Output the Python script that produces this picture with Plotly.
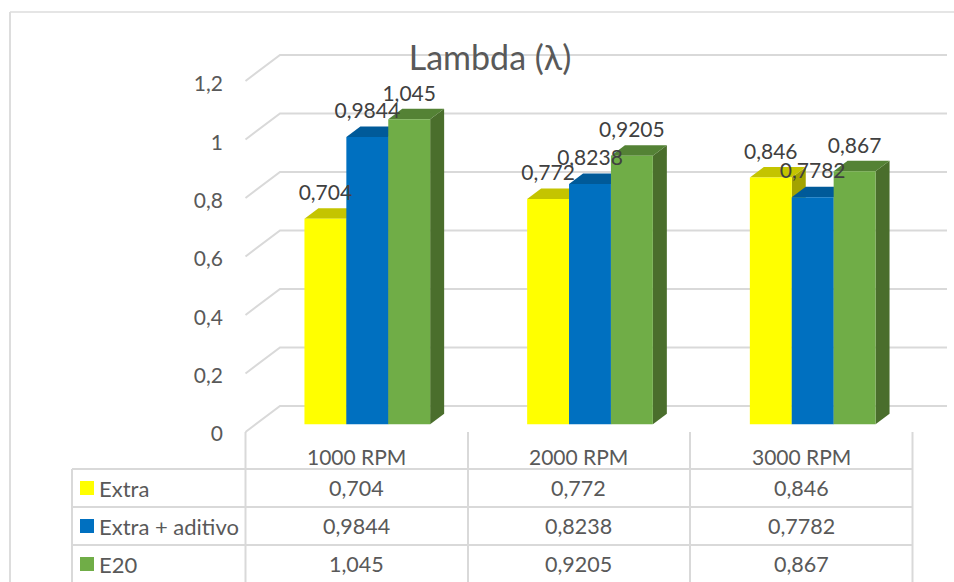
import plotly.graph_objects as go

# ---------- data ----------
categories = ["1000 RPM", "2000 RPM", "3000 RPM"]
series_names = ["Extra", "Extra + aditivo", "E20"]
extra = [0.704, 0.772, 0.846]
aditivo = [0.9844, 0.8238, 0.7782]
e20 = [1.045, 0.9205, 0.867]
extra_labels = ["0,704", "0,772", "0,846"]
aditivo_labels = ["0,9844", "0,8238", "0,7782"]
e20_labels = ["1,045", "0,9205", "0,867"]
y_ticks = [0, 0.2, 0.4, 0.6, 0.8, 1, 1.2]
y_tick_labels = ["0", "0,2", "0,4", "0,6", "0,8", "1", "1,2"]
front_colors = ["#FFFF00", "#0070C0", "#70AD47"]
top_colors = ["#C4C400", "#005A99", "#548235"]
side_colors = ["#A3A300", "#004F87", "#4A6E2C"]

W, H = 954, 582
GROUP_PX = 222.7       # px per category
C0_PX = 367.3          # centre of first group, px
UNIT_PX = 291.8        # px per value unit on the bars' plane
WALL_PX = 292.5        # px per value unit on the walls
BASE_PX = 424.3        # value 0 on the bars' front plane, px from top
GRID = "#D9D9D9"
TEXT = "#595959"
LABEL = "#404040"
FONT = "Lato, Carlito, Calibri, sans-serif"

def X(px):
    return (px - C0_PX) / GROUP_PX

def Y(px):
    return (BASE_PX - px) / UNIT_PX

BAR_W = 41.9 / GROUP_PX
DX, DY = 14 / GROUP_PX, 10.5 / UNIT_PX
BACK_DY = (BASE_PX - 406) / UNIT_PX   # back wall offset
FRONT_DY = (BASE_PX - 432) / UNIT_PX  # front (axis) offset
WALL = WALL_PX / UNIT_PX

fig = go.Figure()

# walls: gridlines from the tick values
for t in y_ticks:
    fig.add_trace(go.Scatter(
        x=[X(245.5), X(280), X(947)],
        y=[t * WALL + FRONT_DY, t * WALL + BACK_DY, t * WALL + BACK_DY],
        mode="lines", line=dict(color=GRID, width=2),
        hoverinfo="skip", showlegend=False, zorder=0))

idx = list(range(len(categories)))
all_series = [extra, aditivo, e20]
all_labels = [extra_labels, aditivo_labels, e20_labels]

for s, values in enumerate(all_series):
    offset = (s - 1) * BAR_W
    # side and top faces derived from each value
    for i, v in zip(idx, values):
        l, r = i + offset - BAR_W / 2, i + offset + BAR_W / 2
        fig.add_trace(go.Scatter(
            x=[r, r + DX, r + DX, r, r], y=[0, DY, v + DY, v, 0],
            mode="lines", fill="toself", fillcolor=side_colors[s],
            line=dict(width=0), hoverinfo="skip", showlegend=False,
            zorder=2 * s + 1))
        fig.add_trace(go.Scatter(
            x=[l, l + DX, r + DX, r, l], y=[v, v + DY, v + DY, v, v],
            mode="lines", fill="toself", fillcolor=top_colors[s],
            line=dict(width=0), hoverinfo="skip", showlegend=False,
            zorder=2 * s + 1))
    fig.add_trace(go.Bar(
        x=[i + offset for i in idx], y=values, width=BAR_W,
        marker=dict(color=front_colors[s], line=dict(width=0)),
        name=series_names[s], showlegend=False, zorder=2 * s + 2))

# data labels
for s, values in enumerate(all_series):
    offset = (s - 1) * BAR_W
    fig.add_trace(go.Scatter(
        x=[i + offset for i in idx],
        y=[v + 24 / UNIT_PX for v in values],
        text=all_labels[s], mode="text", textposition="middle center",
        textfont=dict(family=FONT, size=21, color=LABEL),
        hoverinfo="skip", showlegend=False, zorder=20))

# trace anchoring the value axis
fig.add_trace(go.Scatter(x=[0], y=[0], yaxis="y2", mode="markers",
                         marker=dict(opacity=0), hoverinfo="skip",
                         showlegend=False))

shapes = []
def line(x0, y0, x1, y1, color=GRID, width=2):
    shapes.append(dict(type="line", xref="paper", yref="paper",
                       x0=x0 / W, x1=x1 / W, y0=1 - y0 / H, y1=1 - y1 / H,
                       line=dict(color=color, width=width), layer="below"))

# chart frame
line(10, 12, 954, 12, "#DDDDDD", 1.5)
line(10, 12, 10, 582, "#DDDDDD", 2)

# data table
ROW_Y = [469, 507, 545]
for y in ROW_Y:
    line(72, y, 913, y)
line(72, 469, 72, 582)
COL_X = [245.5, 468, 690, 912.5]
for x in COL_X:
    line(x, 432, x, 582)

annotations = []
def txt(x, y, s, size=21.5, anchor="center", color=TEXT):
    annotations.append(dict(xref="paper", yref="paper", x=x / W, y=1 - y / H,
                            text=s, showarrow=False, xanchor=anchor,
                            yanchor="middle",
                            font=dict(family=FONT, size=size, color=color)))

ROW_TEXT_Y = [488, 526, 564]
CAT_X = [356.5, 578, 801]
for i, c in enumerate(categories):
    txt(CAT_X[i], 456, c, size=21)
    for r in range(3):
        txt(CAT_X[i], ROW_TEXT_Y[r], all_labels[r][i])
for r in range(3):
    txt(97, ROW_TEXT_Y[r], series_names[r], size=22, anchor="left")
    shapes.append(dict(type="rect", xref="paper", yref="paper",
                       x0=80 / W, x1=94 / W,
                       y0=1 - (ROW_TEXT_Y[r] - 7) / H,
                       y1=1 - (ROW_TEXT_Y[r] + 7) / H,
                       fillcolor=front_colors[r], line=dict(width=0)))

y_range = [Y(H), Y(0)]
TICK_SHIFT = FRONT_DY - 2 / UNIT_PX
fig.update_layout(
    width=W, height=H, margin=dict(l=0, r=0, t=0, b=0),
    paper_bgcolor="white", plot_bgcolor="white", showlegend=False,
    barmode="overlay", separators=", ",
    title=dict(text="Lambda (λ)", x=490 / W, xanchor="center",
               y=1 - 58 / H, yanchor="middle",
               font=dict(family=FONT, size=34, color=TEXT)),
    xaxis=dict(range=[X(0), X(W)], visible=False, fixedrange=True),
    yaxis=dict(range=y_range, visible=False, fixedrange=True),
    yaxis2=dict(range=[y_range[0] - TICK_SHIFT, y_range[1] - TICK_SHIFT],
                overlaying="y", anchor="free", side="left",
                position=223 / W, tickmode="array",
                tickvals=y_ticks,
                ticktext=y_tick_labels, showgrid=False, zeroline=False,
                showline=False, ticks="", fixedrange=True,
                tickfont=dict(family=FONT, size=21, color=TEXT)),
    shapes=shapes, annotations=annotations)

fig.write_html("out.html", config=dict(displayModeBar=False),
               post_script="document.body.style.margin='0';")
